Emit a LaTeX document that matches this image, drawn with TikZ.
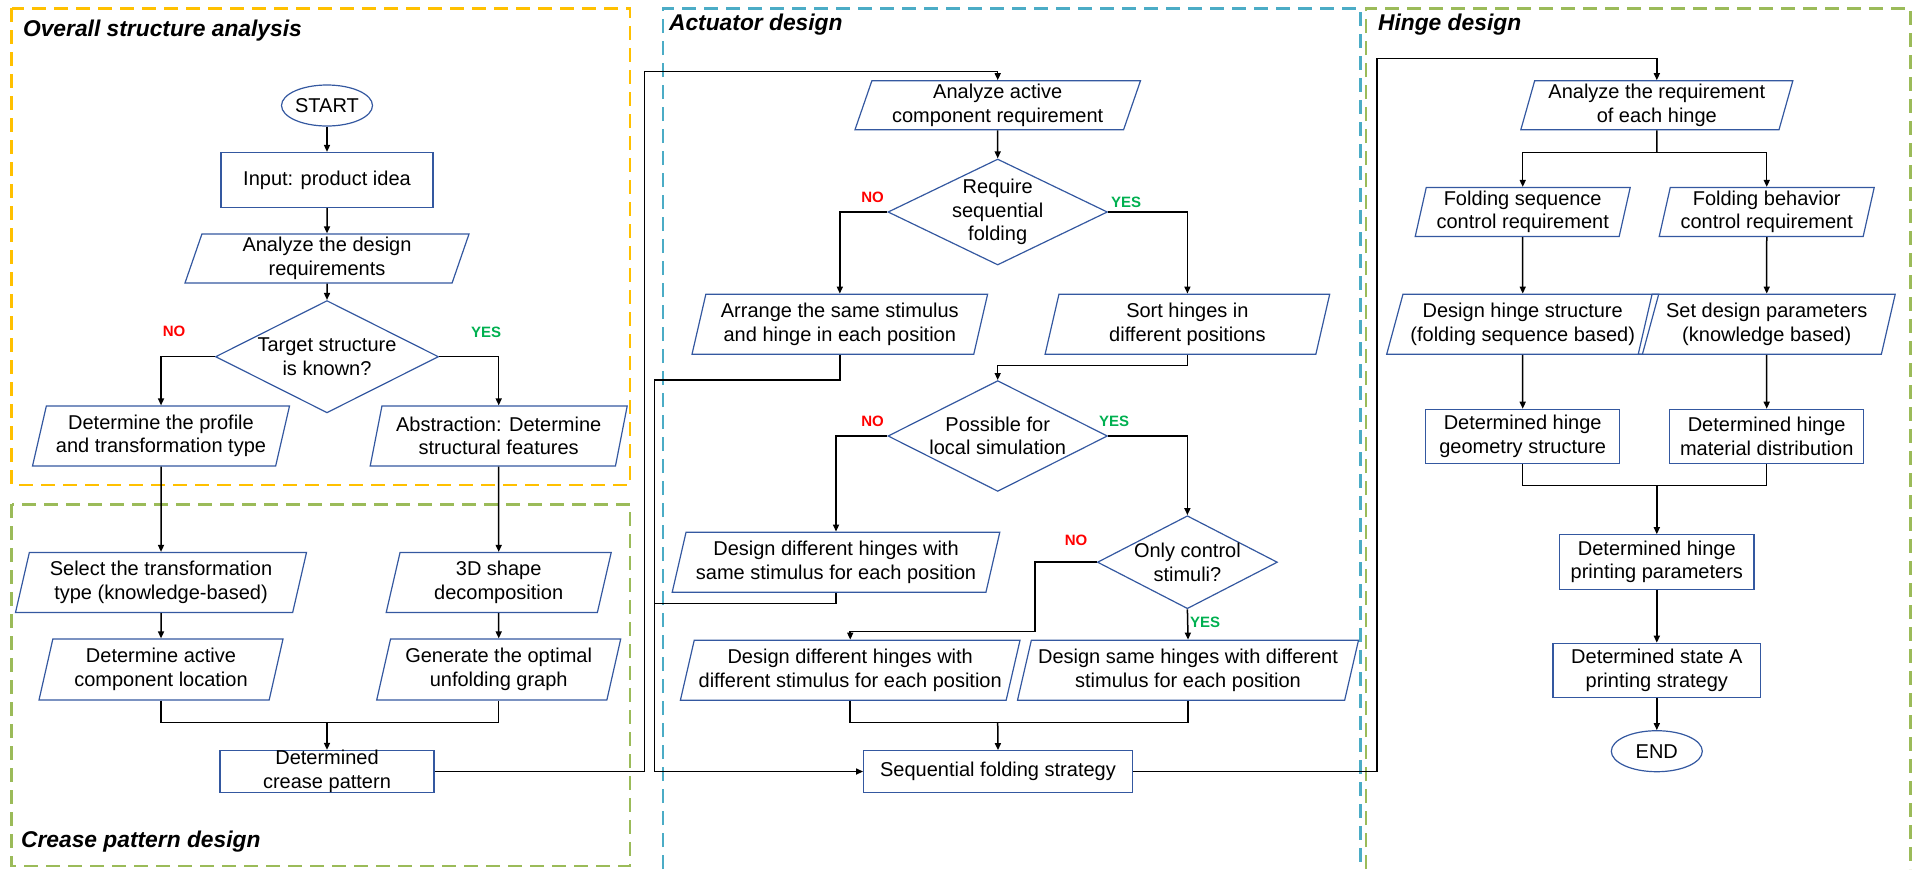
\documentclass[tikz,border=0pt]{standalone}
\usepackage{fontspec}
\setmainfont{Liberation Sans}
\usetikzlibrary{positioning,arrows.meta,shapes.geometric}
\definecolor{nodeblue}{RGB}{52,88,160}
\definecolor{paneyellow}{RGB}{255,192,0}
\definecolor{panegreen}{RGB}{155,187,89}
\definecolor{paneblue}{RGB}{75,172,198}
\definecolor{yesgreen}{RGB}{0,176,80}
\definecolor{nored}{RGB}{255,0,0}

\tikzset{
  base/.style={draw=nodeblue, line width=0.6pt, align=center, inner sep=0pt,
    font=\fontsize{10}{11.7}\selectfont},
  proc/.style={base, rectangle},
  term/.style={base, ellipse, minimum width=45.5pt, minimum height=20.5pt},
  io/.style={base, trapezium, trapezium left angle=62, trapezium right angle=118,
    trapezium stretches body, inner xsep=-12pt, inner ysep=-4pt, minimum height=30pt},
  ioshort/.style={io, trapezium left angle=57, trapezium right angle=123, minimum height=24.5pt},
  decision/.style={base, diamond, inner sep=-8pt},
  pane/.style={line width=1.4pt, dash pattern=on 7pt off 4pt},
  title/.style={anchor=base west, font=\fontsize{11.4}{13}\selectfont\bfseries\itshape},
  link/.style={line width=0.75pt},
  arr/.style={link, -{Triangle[length=3.5pt,width=3pt]}},
  yeslab/.style={font=\fontsize{7.5}{9}\selectfont\bfseries, text=yesgreen, inner sep=0pt},
  nolab/.style={font=\fontsize{7.5}{9}\selectfont\bfseries, text=nored, inner sep=0pt}
}

\begin{document}
\begin{tikzpicture}[x=0.5pt, y=-0.5pt]
  \useasboundingbox (0,0) rectangle (1921,869);

  % panes
  \draw[pane, paneyellow] (11.8,8.3) rectangle (630,485);
  \draw[pane, panegreen] (11.8,504.3) rectangle (630,866);
  \draw[pane, paneblue] (663,869) -- (663,8.3) -- (1360.4,8.3) -- (1360.4,869);
  \draw[pane, panegreen] (1366,869) -- (1366,8.3) -- (1910.6,8.3) -- (1910.6,869);
  \node[title] (t1) at (16,36) {Overall structure analysis};
  \node[title] (t2) at (14,847) {Crease pattern design};
  \node[title] (t3) at (662,30) {Actuator design};
  \node[title] (t4) at (1371,30) {Hinge design};

  % overall structure analysis
  \node[term] (start) at (327,105.5) {START};
  \node[proc, minimum width=106pt, minimum height=27.5pt] (input) at (327,180) {Input: product idea};
  \node[ioshort, minimum width=142pt] (adr) at (327,258.5) {Analyze the design\\requirements};
  \node[decision, minimum width=111.5pt, minimum height=46pt] (tsk) at (327,356.7) {Target structure\\is known?};
  \node[io, minimum width=128.5pt] (prof) at (161,436) {Determine the profile\\and transformation type};
  \node[io, minimum width=128.5pt] (abst) at (498.7,436) {Abstraction: Determine\\structural features};
  \node[nolab] (no1) at (174,331.7) {NO};
  \node[yeslab] (yes1) at (486,332) {YES};

  % crease pattern design
  \node[io, minimum width=145.5pt] (sel) at (161,582.5) {Select the transformation\\type (knowledge-based)};
  \node[io, minimum width=112.5pt] (shp) at (498.7,582.5) {3D shape\\decomposition};
  \node[io, minimum width=122pt, minimum height=30.5pt] (loc) at (161,669.5) {Determine active\\component location};
  \node[io, minimum width=122pt, minimum height=30.5pt] (gen) at (498.7,669.5) {Generate the optimal\\unfolding graph};
  \node[proc, minimum width=107pt, minimum height=20.8pt] (crease) at (327,771.5) {Determined\\crease pattern};

  % actuator design
  \node[ioshort, minimum width=142.75pt] (aacr) at (997.7,105.3) {Analyze active\\component requirement};
  \node[decision, minimum width=109.75pt, minimum height=53pt] (rsf) at (997.7,212) {Require\\sequential\\folding};
  \node[io, minimum width=147.8pt] (arrange) at (839.8,324.2) {Arrange the same stimulus\\and hinge in each position};
  \node[io, minimum width=142.3pt] (sort) at (1187.4,324.2) {Sort hinges in\\different positions};
  \node[decision, minimum width=109.75pt, minimum height=53pt] (pls) at (997.7,436) {Possible for\\local simulation};
  \node[io, minimum width=163.8pt] (dds) at (836,562.2) {Design different hinges with\\same stimulus for each position};
  \node[decision, minimum width=90pt, minimum height=46.5pt] (ocs) at (1187.4,562.2) {Only control\\stimuli?};
  \node[io, minimum width=169.8pt] (ddd) at (850.2,670.2) {Design different hinges with\\different stimulus for each position};
  \node[io, minimum width=170.5pt] (dsh) at (1188,670.2) {Design same hinges with different\\stimulus for each position};
  \node[proc, minimum width=134.35pt, minimum height=20.8pt] (sfs) at (998,771.5) {Sequential folding strategy};
  \node[nolab] (no2) at (872.5,197.7) {NO};
  \node[yeslab] (yes2) at (1126,202) {YES};
  \node[nolab] (no3) at (872.5,421.7) {NO};
  \node[yeslab] (yes3) at (1114,421.7) {YES};
  \node[nolab] (no4) at (1076,540.7) {NO};
  \node[yeslab] (yes4) at (1205,622.7) {YES};

  % hinge design
  \node[ioshort, minimum width=136pt, trapezium left angle=62, trapezium right angle=118] (arh) at (1656.8,105.3) {Analyze the requirement\\of each hinge};
  \node[ioshort, minimum width=107.5pt, trapezium left angle=67, trapezium right angle=113] (fsc) at (1522.7,212) {Folding sequence\\control requirement};
  \node[ioshort, minimum width=107.5pt, trapezium left angle=67, trapezium right angle=113] (fbc) at (1766.7,212) {Folding behavior\\control requirement};
  \node[io, minimum width=136pt, trapezium left angle=58, trapezium right angle=122] (dhs) at (1522.7,324.2) {Design hinge structure\\(folding sequence based)};
  \node[io, minimum width=128.5pt] (sdp) at (1766.7,324.2) {Set design parameters\\(knowledge based)};
  \node[proc, minimum width=96.9pt, minimum height=27pt] (dgeo) at (1522.7,436.3) {Determined hinge\\geometry structure};
  \node[proc, minimum width=96.9pt, minimum height=27pt] (dmat) at (1766.7,436.3) {Determined hinge\\material distribution};
  \node[proc, minimum width=97.1pt, minimum height=27.2pt] (dhp) at (1656.8,562) {Determined hinge\\printing parameters};
  \node[proc, minimum width=103.75pt, minimum height=27pt] (dsa) at (1656.8,670.3) {Determined state A\\printing strategy};
  \node[term] (fin) at (1656.8,751.2) {END};

  % turning points
  \coordinate (m1) at (327,722.7);
  \coordinate (c1) at (644.6,71.7);
  \coordinate (c2) at (997.7,365.3);
  \coordinate (c3) at (654.7,380);
  \coordinate (c4) at (654.7,603.3);
  \coordinate (c5) at (1035,631.7);
  \coordinate (m2) at (997.7,722.7);
  \coordinate (c7) at (1377,58.3);
  \coordinate (s1) at (1656.8,152.7);
  \coordinate (m3) at (1656.8,485.7);

  % connectors
  \draw[arr] (start) -- (input);
  \draw[arr] (input) -- (adr);
  \draw[arr] (adr) -- (tsk);
  \draw[arr] (tsk.west) -| (prof.north);
  \draw[arr] (tsk.east) -| (abst.north);
  \draw[arr] (prof) -- (sel);
  \draw[arr] (abst) -- (shp);
  \draw[arr] (sel) -- (loc);
  \draw[arr] (shp) -- (gen);
  \draw[link] (loc.south) |- (m1) -| (gen.south);
  \draw[arr] (m1) -- (crease.north);
  \draw[arr] (crease.east) -| (c1) -| (aacr.north);

  \draw[arr] (aacr) -- (rsf);
  \draw[arr] (rsf.west) -| (arrange.north);
  \draw[arr] (rsf.east) -| (sort.north);
  \draw[arr] (sort.south) |- (c2) -- (pls.north);
  \draw[arr] (arrange.south) |- (c3) |- (sfs.west);
  \draw[arr] (pls.west) -| (dds.north);
  \draw[arr] (pls.east) -| (ocs.north);
  \draw[link] (dds.south) |- (c4);
  \draw[arr] (ocs.west) -| (c5) -| (ddd.north);
  \draw[arr] (ocs.south) -- (dsh.north);
  \draw[link] (ddd.south) |- (m2) -| (dsh.south);
  \draw[arr] (m2) -- (sfs.north);
  \draw[arr] (sfs.east) -| (c7) -| (arh.north);

  \draw[link] (arh.south) -- (s1);
  \draw[arr] (s1) -| (fsc.north);
  \draw[arr] (s1) -| (fbc.north);
  \draw[arr] (fsc) -- (dhs);
  \draw[arr] (fbc) -- (sdp);
  \draw[arr] (dhs) -- (dgeo);
  \draw[arr] (sdp) -- (dmat);
  \draw[link] (dgeo.south) |- (m3) -| (dmat.south);
  \draw[arr] (m3) -- (dhp.north);
  \draw[arr] (dhp) -- (dsa);
  \draw[arr] (dsa) -- (fin);
\end{tikzpicture}
\end{document}
